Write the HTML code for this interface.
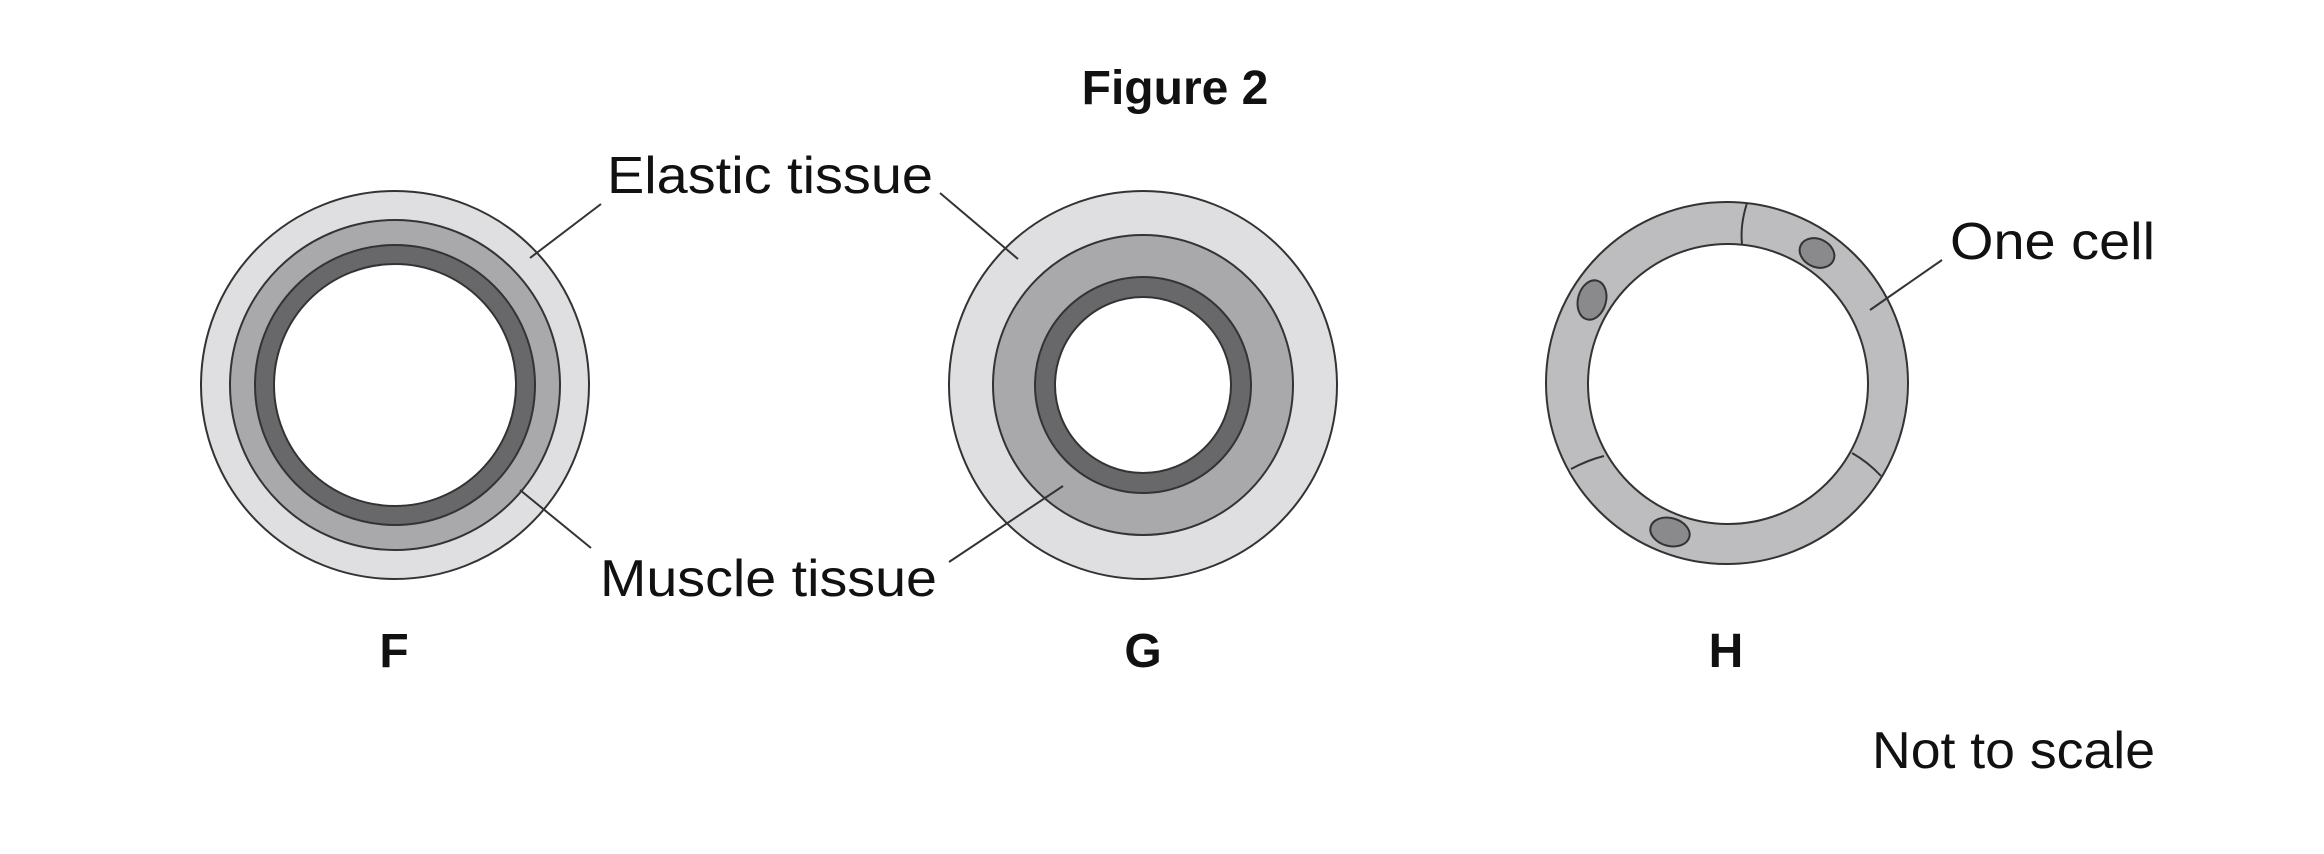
<!DOCTYPE html>
<html><head><style>html,body{margin:0;padding:0;background:#fff;width:2324px;height:854px;overflow:hidden}</style></head>
<body>
<svg width="2324" height="854" viewBox="0 0 2324 854" xmlns="http://www.w3.org/2000/svg" font-family="Liberation Sans, Arial, sans-serif">
<g stroke="#333" stroke-width="2">
<!-- F -->
<circle cx="395" cy="385" r="194" fill="#dfdfe1"/>
<circle cx="395" cy="385" r="165" fill="#a9a9ac"/>
<circle cx="395" cy="385" r="140" fill="#68686b"/>
<circle cx="395" cy="385" r="121" fill="#fff"/>
<!-- G -->
<circle cx="1143" cy="385" r="194" fill="#dfdfe1"/>
<circle cx="1143" cy="385" r="150" fill="#a9a9ac"/>
<circle cx="1143" cy="385" r="108" fill="#68686b"/>
<circle cx="1143" cy="385" r="88" fill="#fff"/>
<!-- H -->
<circle cx="1727" cy="383" r="181" fill="#bdbdc0"/>
<circle cx="1728" cy="384" r="140" fill="#fff"/>
<path d="M1747 203 Q1740 225 1742 244" fill="none"/>
<path d="M1571 469 Q1588 460 1604 456" fill="none"/>
<path d="M1852 453 Q1868 462 1881 476" fill="none"/>
<ellipse cx="1817" cy="253" rx="18" ry="14" transform="rotate(25 1817 253)" fill="#8a8a8d"/>
<ellipse cx="1592" cy="300" rx="14" ry="20" transform="rotate(15 1592 300)" fill="#8a8a8d"/>
<ellipse cx="1670" cy="532" rx="20" ry="14" transform="rotate(15 1670 532)" fill="#8a8a8d"/>
<!-- leader lines -->
<line x1="601" y1="204" x2="530" y2="258"/>
<line x1="940" y1="193" x2="1018" y2="259"/>
<line x1="520" y1="490" x2="591" y2="548"/>
<line x1="1063" y1="486" x2="949" y2="562"/>
<line x1="1942" y1="260" x2="1870" y2="310"/>
</g>
<g fill="#111">
<text x="1175" y="104" font-size="48" font-weight="bold" text-anchor="middle">Figure 2</text>
<text x="607" y="193" font-size="52" textLength="326" lengthAdjust="spacingAndGlyphs">Elastic tissue</text>
<text x="600" y="596" font-size="52" textLength="337" lengthAdjust="spacingAndGlyphs">Muscle tissue</text>
<text x="1950" y="259" font-size="52" textLength="205" lengthAdjust="spacingAndGlyphs">One cell</text>
<text x="1872" y="768" font-size="52" textLength="283" lengthAdjust="spacingAndGlyphs">Not to scale</text>
<text x="394" y="667" font-size="48" font-weight="bold" text-anchor="middle">F</text>
<text x="1143" y="667" font-size="48" font-weight="bold" text-anchor="middle">G</text>
<text x="1726" y="667" font-size="48" font-weight="bold" text-anchor="middle">H</text>
</g>
</svg>
</body></html>
